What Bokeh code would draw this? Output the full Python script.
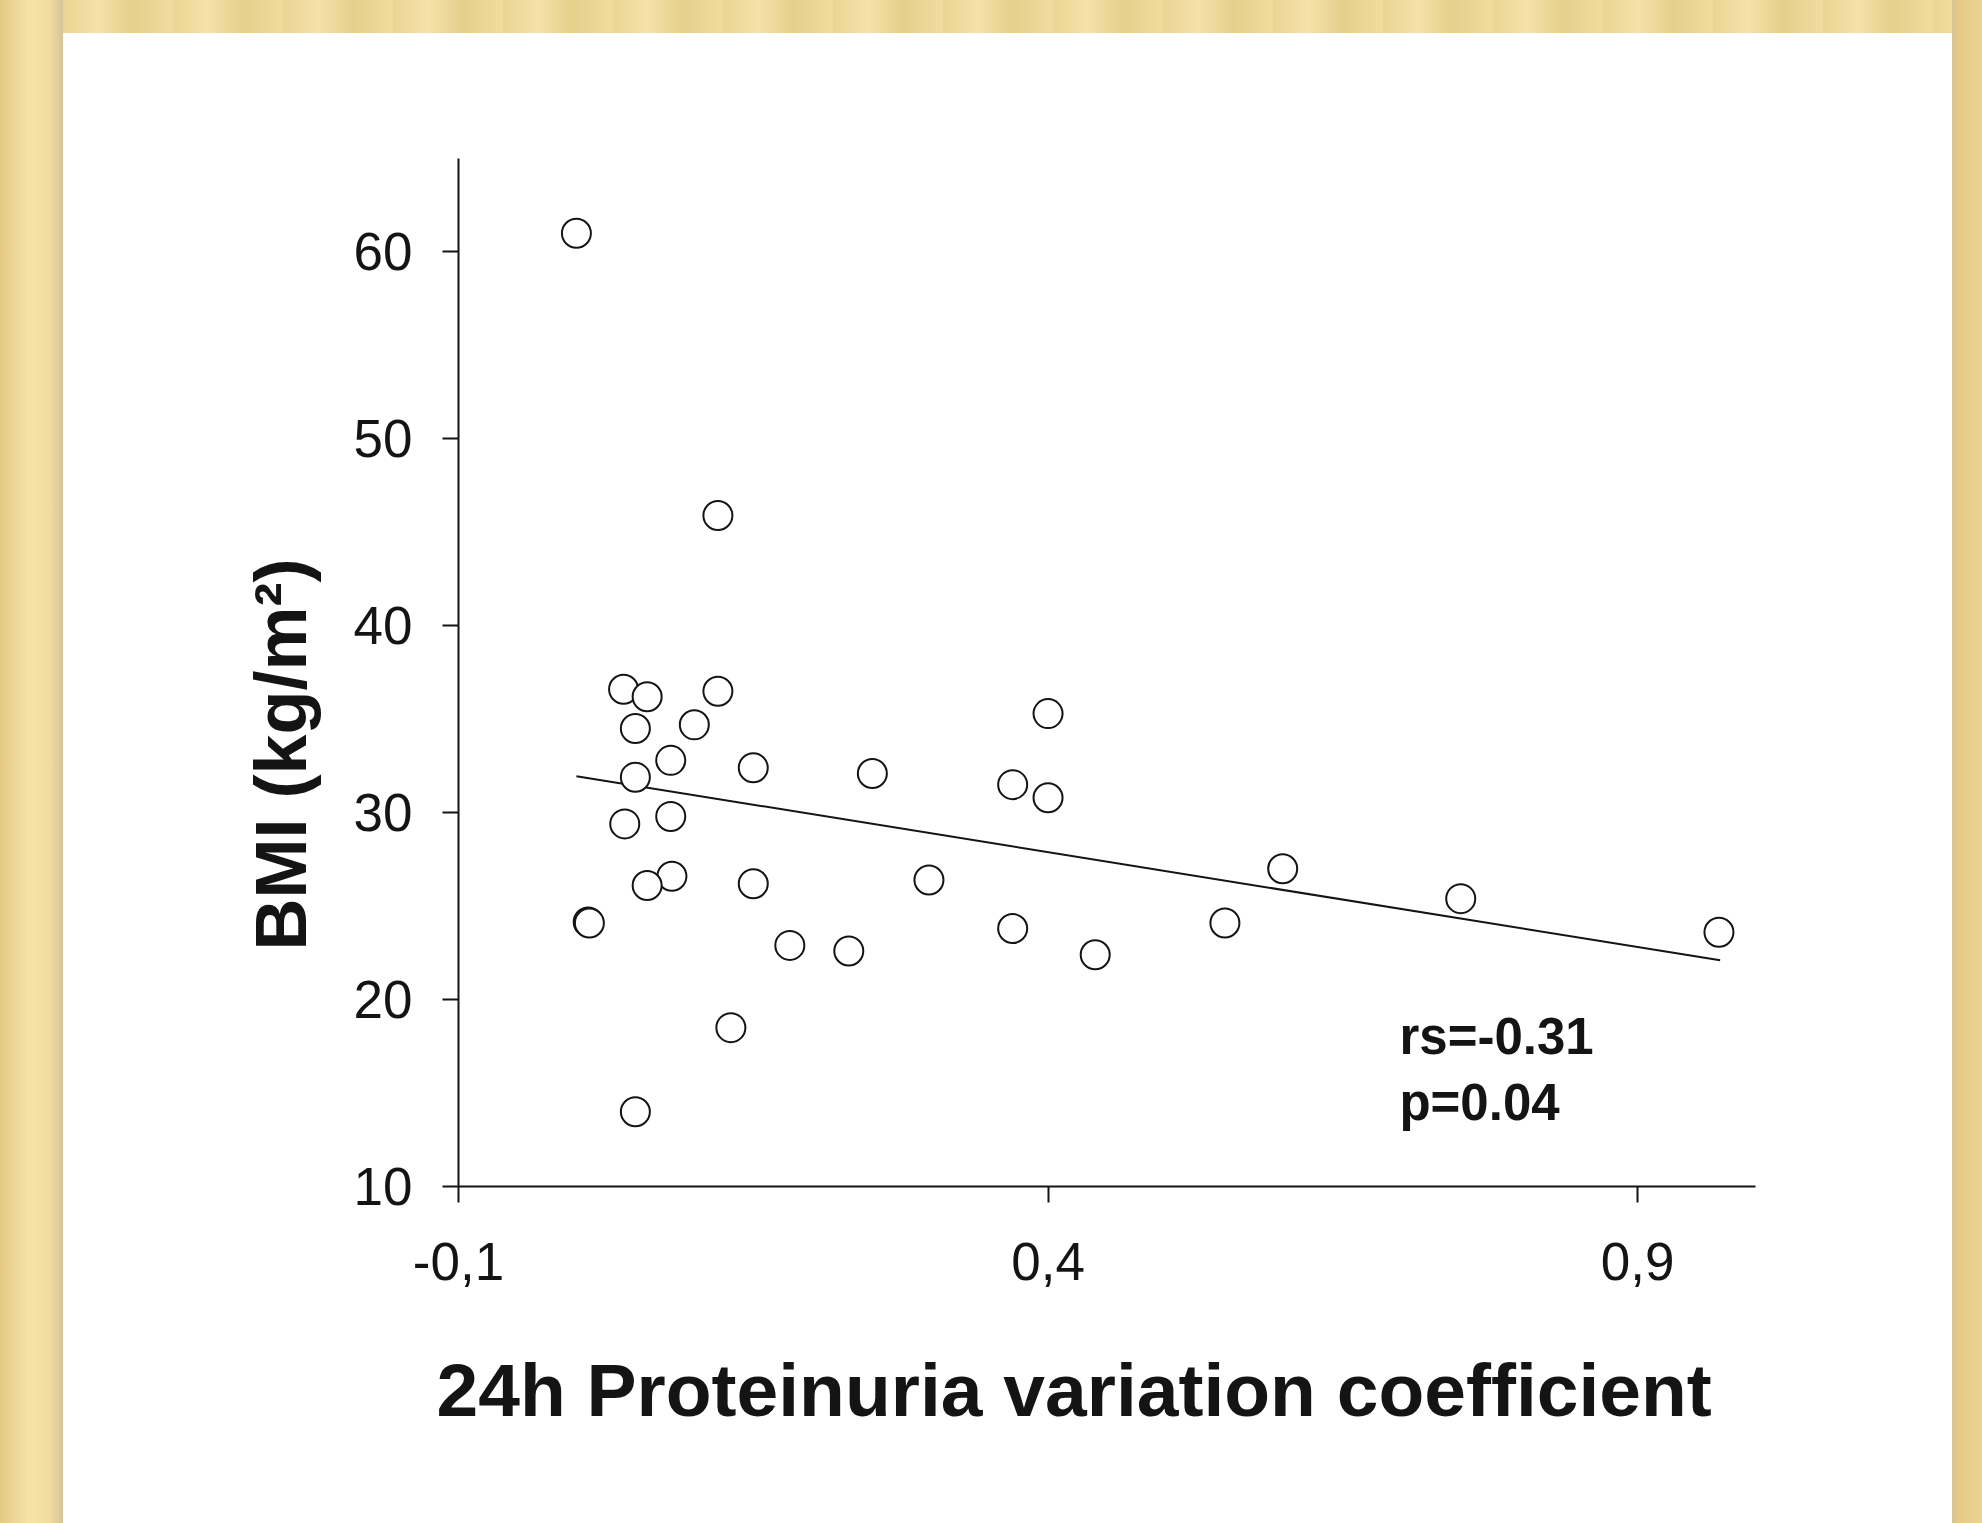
from bokeh.plotting import figure
from bokeh.models import Label, FixedTicker, Div, Title
from bokeh.layouts import row, column
from bokeh.embed import file_html
from bokeh.resources import INLINE

# ---- data ----
cv = [0.000, 0.120, 0.040, 0.060, 0.120, 0.050, 0.100, 0.080, 0.050, 0.150,
      0.251, 0.400, 0.370, 0.400, 0.041, 0.080, 0.081, 0.060, 0.150, 0.299,
      0.599, 0.750, 0.010, 0.011, 0.370, 0.550, 0.969, 0.181, 0.231, 0.440,
      0.131, 0.050]
bmi = [61.0, 45.9, 36.6, 36.2, 36.5, 34.5, 34.7, 32.8, 31.9, 32.4,
       32.1, 35.3, 31.5, 30.8, 29.4, 29.8, 26.6, 26.1, 26.2, 26.4,
       27.0, 25.4, 24.15, 24.1, 23.8, 24.1, 23.6, 22.9, 22.6, 22.4,
       18.5, 14.0]
fit_x = [0.0, 0.97]
fit_y = [31.95, 22.10]

x_ticks = [-0.1, 0.4, 0.9]
x_tick_labels = ["-0,1", "0,4", "0,9"]
y_ticks = [10, 20, 30, 40, 50, 60]

x_title = "24h Proteinuria variation coefficient"
y_title = "BMI (kg/m\u00b2)"
stats_lines = ["rs=-0.31", "p=0.04"]

FONT = "Liberation Sans"
INK = "#141414"

p = figure(width=1889, height=1490, x_range=(-0.1, 1.0), y_range=(10, 65),
           output_backend="svg", toolbar_location=None,
           min_border_left=395, min_border_right=197,
           min_border_top=125, min_border_bottom=337,
           background_fill_color="white", border_fill_color="white",
           outline_line_color=None)
p.xgrid.visible = False
p.ygrid.visible = False

for ax in (p.xaxis[0], p.yaxis[0]):
    ax.axis_line_color = INK
    ax.axis_line_width = 2
    ax.major_tick_line_color = INK
    ax.major_tick_line_width = 2
    ax.major_tick_in = 0
    ax.major_tick_out = 16
    ax.minor_tick_line_color = None
    ax.major_label_text_font = FONT
    ax.major_label_text_font_size = "53px"
    ax.major_label_text_color = INK

p.xaxis[0].ticker = FixedTicker(ticks=x_ticks)
p.xaxis[0].major_label_overrides = {t: s for t, s in zip(x_ticks, x_tick_labels)}
p.xaxis[0].major_label_standoff = 40
p.yaxis[0].ticker = FixedTicker(ticks=y_ticks)
p.yaxis[0].major_label_standoff = 30

p.line(fit_x, fit_y, line_color=INK, line_width=2)
p.scatter(cv, bmi, marker="circle", size=29, fill_color="white",
          line_color=INK, line_width=2)

p.add_layout(Title(text=x_title, align="left", offset=-22,
                   vertical_align="top", standoff=130,
                   text_font=FONT, text_font_style="bold",
                   text_font_size="75px", text_color=INK), "below")
p.add_layout(Title(text=y_title, align="left", offset=236,
                   vertical_align="bottom", standoff=60,
                   text_font=FONT, text_font_style="bold",
                   text_font_size="72px", text_color=INK), "left")

p.add_layout(Label(x=0.698, y=18.0, text=stats_lines[0], text_align="left",
                   text_baseline="alphabetic", text_font=FONT,
                   text_font_style="bold", text_font_size="51px",
                   text_color=INK))
p.add_layout(Label(x=0.698, y=14.5, text=stats_lines[1], text_align="left",
                   text_baseline="alphabetic", text_font=FONT,
                   text_font_style="bold", text_font_size="51px",
                   text_color=INK))

left_band = Div(text="", width=63, height=1523, margin=0,
                styles={"background": "linear-gradient(90deg, #e4c985 0%, #f5e3a8 45%, #f0dc9e 80%, #d5c39a 100%)"})
top_band = Div(text="", width=1889, height=33, margin=0,
               styles={"background": "repeating-linear-gradient(90deg, #ecd594 0px, #f4e2a9 35px, #e7cf8c 70px, #f1dc9f 110px)"})
right_band = Div(text="", width=30, height=1523, margin=0,
                 styles={"background": "linear-gradient(90deg, #d5c39a 0%, #e6cb86 20%, #ecd494 100%)"})

layout = row(left_band, column(top_band, p, spacing=0), right_band, spacing=0)

open("out.html", "w").write(file_html(layout, INLINE))
